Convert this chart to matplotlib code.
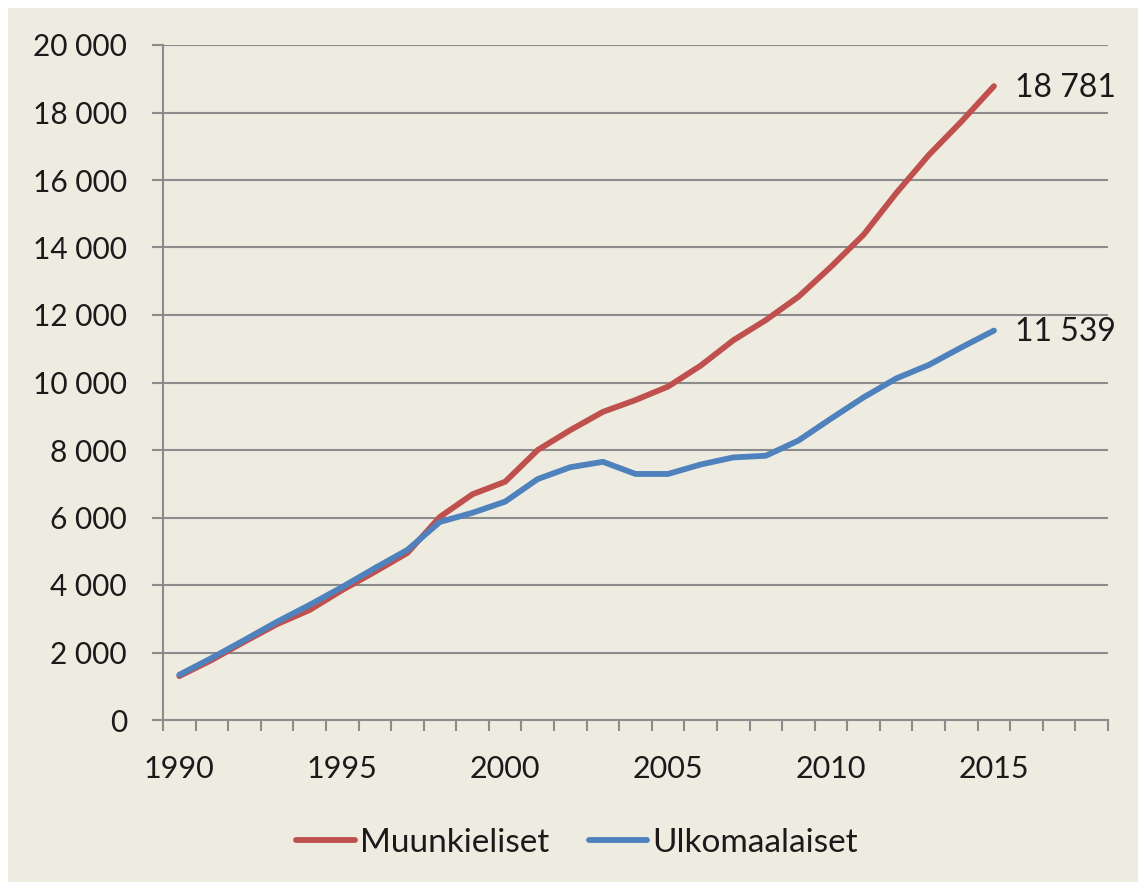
import matplotlib.pyplot as plt
from matplotlib.ticker import FuncFormatter, FixedLocator
from matplotlib.patches import Rectangle

plt.rcParams['font.family'] = ['Lato', 'DejaVu Sans']

years = list(range(1990, 2016))
muunkieliset = [1300, 1780, 2320, 2840, 3260, 3850, 4390, 4950, 6020, 6690, 7060,
                8000, 8590, 9130, 9480, 9880, 10500, 11250, 11850, 12540, 13430,
                14380, 15610, 16740, 17730, 18781]
ulkomaalaiset = [1340, 1840, 2370, 2910, 3410, 3940, 4500, 5040, 5870, 6140, 6470,
                 7140, 7490, 7650, 7290, 7290, 7570, 7780, 7830, 8280, 8930,
                 9560, 10120, 10520, 11040, 11539]
series_names = ['Muunkieliset', 'Ulkomaalaiset']
colors = ['#C0504D', '#4F81BD']
bg = '#EEECE1'
grid_col = '#8C8C8C'
txt = '#1A1A1A'

W, H = 1138, 882
fig = plt.figure(figsize=(W / 100, H / 100), dpi=100, facecolor='white')
# beige chart area with a thin white margin on top and left
fig.patches.append(Rectangle((8 / W, 0), 1, 1 - 8 / H, transform=fig.transFigure,
                             facecolor=bg, edgecolor='none', zorder=-10))

ax = fig.add_axes([163 / W, 1 - 720 / H, (1108 - 163) / W, (720 - 45) / H])
ax.set_facecolor(bg)

for vals, name, c in zip([muunkieliset, ulkomaalaiset], series_names, colors):
    ax.plot(years, vals, color=c, lw=4.2, solid_capstyle='round',
            solid_joinstyle='round', label=name, zorder=3)

ax.set_xlim(1989.5, 2018.5)
ax.set_ylim(0, 20000)
ax.set_yticks(range(0, 20001, 2000))
ax.yaxis.set_major_formatter(FuncFormatter(lambda v, p: f"{int(v):,}".replace(",", " ")))
ax.grid(axis='y', color=grid_col, lw=1.5, zorder=1)

ax.set_xticks(range(1990, 2016, 5))
ax.xaxis.set_minor_locator(FixedLocator([1989.5 + k for k in range(30)]))
ax.tick_params(axis='x', which='major', length=0, pad=25, labelsize=22, labelcolor=txt)
ax.tick_params(axis='x', which='minor', length=8, width=1.5, color=grid_col, direction='out')
ax.tick_params(axis='y', length=8, width=1.5, color=grid_col, direction='out',
               pad=18, labelsize=21.5, labelcolor=txt)

for s in ['top', 'right']:
    ax.spines[s].set_visible(False)
for s in ['left', 'bottom']:
    ax.spines[s].set_color(grid_col)
    ax.spines[s].set_linewidth(1.5)

for vals in [muunkieliset, ulkomaalaiset]:
    ax.annotate(f"{vals[-1]:,}".replace(",", " "), (years[-1], vals[-1]),
                xytext=(15, -1), textcoords='offset points', va='center',
                ha='left', fontsize=23, color=txt)

fig.legend(loc='center', bbox_to_anchor=(577 / W, 1 - 843 / H), ncol=2,
           frameon=False, fontsize=24, handlelength=1.75, handletextpad=0.15,
           columnspacing=1.2, labelcolor=txt)

fig.savefig('out.png', dpi=100, facecolor=fig.get_facecolor())
